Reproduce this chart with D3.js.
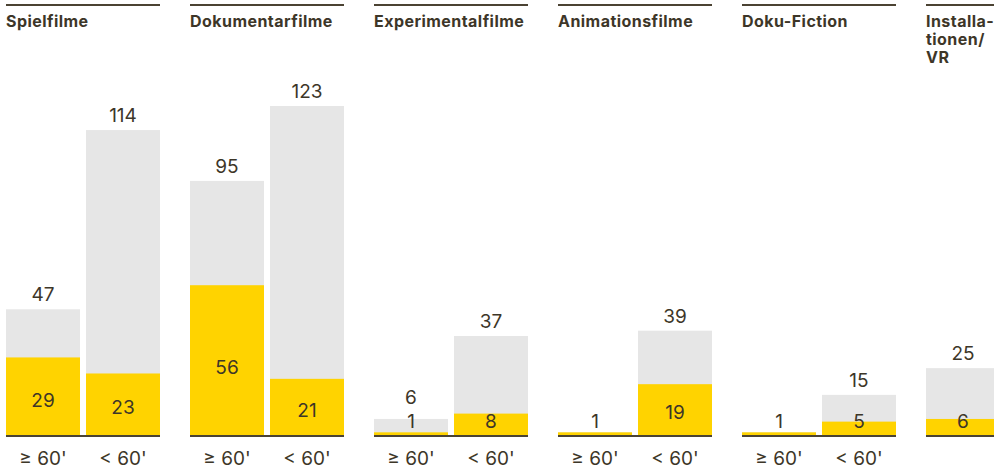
<!DOCTYPE html>
<html>
<head>
<meta charset="utf-8">
<script src="https://cdn.jsdelivr.net/npm/d3@7"></script>
<style>
  body { margin: 0; background: #fff; }
  svg { display: block; font-family: Inter, "Noto Sans", sans-serif; }
</style>
</head>
<body>
<div id="chart"></div>
<script>
// categories and their title lines
var categories = ["Spielfilme", "Dokumentarfilme", "Experimentalfilme", "Animationsfilme", "Doku-Fiction", "Installationen/VR"];
var titleLines = [["Spielfilme"], ["Dokumentarfilme"], ["Experimentalfilme"], ["Animationsfilme"], ["Doku-Fiction"], ["Installa-", "tionen/", "VR"]];
var durations = ["≥ 60'", "< 60'"];
// total films per category and duration (grey)
var totals = [[47, 114], [95, 123], [6, 37], [1, 39], [1, 15], [25]];
// selected films (yellow)
var selected = [[29, 23], [56, 21], [1, 8], [1, 19], [1, 5], [6]];

var areaWidth = 994, areaHeight = 468;
var baseY = 435;
var dark = "#3d3628";

var svg = d3.select("#chart").append("svg")
  .attr("width", areaWidth).attr("height", areaHeight);

var groupScale = d3.scaleBand().domain(categories).range([6, 1080]).paddingInner(30 / 184).paddingOuter(0);
var barScale = d3.scaleBand().domain(durations).range([0, groupScale.bandwidth()]).paddingInner(6 / 80).paddingOuter(0);
var heightScale = d3.scaleLinear().domain([0, 123]).range([baseY, 106]);

// middle of the yellow label, kept above the baseline for tiny bars
function selMid(d) {
  var top = heightScale(d.sel);
  return Math.min(top + 0.55 * (baseY - top), 421);
}

var groups = svg.selectAll("g.group")
  .data(categories)
  .enter()
  .append("g")
  .attr("class", "group")
  .attr("transform", function (d) { return "translate(" + groupScale(d) + ",0)"; });

// top rule
groups.append("line")
  .attr("x1", 0).attr("x2", groupScale.bandwidth())
  .attr("y1", 5).attr("y2", 5)
  .style("stroke", "#4b4333").style("stroke-width", 2);

// title
groups.append("text")
  .style("font-size", "16px").style("font-weight", 700).style("fill", dark)
  .style("letter-spacing", "0.45px")
  .selectAll("tspan")
  .data(function (d, i) { return titleLines[i]; })
  .enter()
  .append("tspan")
  .attr("x", 0)
  .attr("y", function (d, i) { return 26.5 + i * 18; })
  .text(function (d) { return d; });

groups.each(function (cat, gi) {
  var g = d3.select(this);
  var bars = totals[gi].map(function (t, j) {
    return { dur: durations[j], total: t, sel: selected[gi][j], single: totals[gi].length == 1 };
  });

  // grey total
  g.selectAll("rect.total").data(bars).enter().append("rect")
    .attr("x", function (d) { return barScale(d.dur); })
    .attr("y", function (d) { return heightScale(d.total); })
    .attr("width", barScale.bandwidth())
    .attr("height", function (d) { return baseY - heightScale(d.total); })
    .style("fill", "#e6e6e6");

  // yellow selected
  g.selectAll("rect.sel").data(bars).enter().append("rect")
    .attr("x", function (d) { return barScale(d.dur); })
    .attr("y", function (d) { return heightScale(d.sel); })
    .attr("width", barScale.bandwidth())
    .attr("height", function (d) { return baseY - heightScale(d.sel); })
    .style("fill", "#ffd300");

  // total labels (only when grey part is visible)
  g.selectAll("text.total").data(bars.filter(function (d) { return d.total > d.sel; })).enter().append("text")
    .attr("x", function (d) { return barScale(d.dur) + barScale.bandwidth() / 2; })
    .attr("y", function (d) { return Math.min(heightScale(d.total) - 8, selMid(d) - 17); })
    .attr("text-anchor", "middle")
    .style("font-size", "19px").style("fill", dark)
    .text(function (d) { return d.total; });

  // selected labels
  g.selectAll("text.sel").data(bars).enter().append("text")
    .attr("x", function (d) { return barScale(d.dur) + barScale.bandwidth() / 2; })
    .attr("y", selMid)
    .attr("dy", "0.36em")
    .attr("text-anchor", "middle")
    .style("font-size", "19px").style("fill", dark)
    .text(function (d) { return d.sel; });

  // baseline
  g.append("line")
    .attr("x1", 0).attr("x2", groupScale.bandwidth())
    .attr("y1", baseY + 1).attr("y2", baseY + 1)
    .style("stroke", "#4b4333").style("stroke-width", 2);

  // duration labels
  g.selectAll("text.dur").data(bars.filter(function (d) { return !d.single; })).enter().append("text")
    .attr("x", function (d) { return barScale(d.dur) + barScale.bandwidth() / 2; })
    .attr("y", 464.5)
    .attr("text-anchor", "middle")
    .style("font-size", "19px").style("fill", dark)
    .text(function (d) { return d.dur; });
});
</script>
</body>
</html>
